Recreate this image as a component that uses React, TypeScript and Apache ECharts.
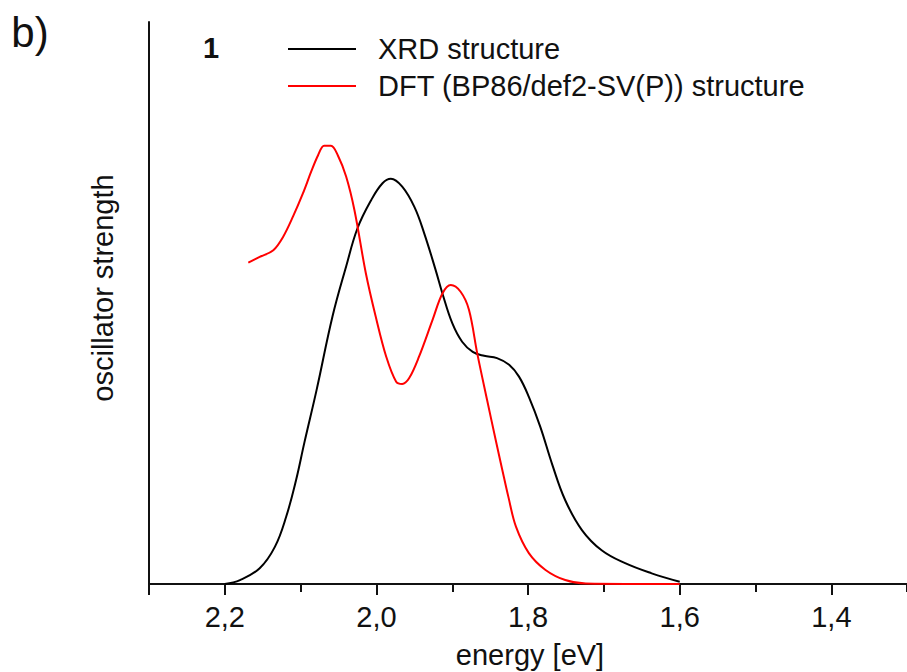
import React, { useEffect, useRef } from "react";
import * as echarts from "echarts";

// XRD structure (black)
const xrdEnergy = [2.2, 2.18, 2.154, 2.134, 2.119, 2.106, 2.095, 2.079, 2.058, 2.04, 2.025, 2.007, 1.992, 1.981, 1.966, 1.95, 1.937, 1.922, 1.913, 1.9, 1.887, 1.873, 1.858, 1.841, 1.825, 1.812, 1.799, 1.784, 1.768, 1.751, 1.729, 1.703, 1.672, 1.637, 1.6];
const xrdStrength = [0, 0.7, 2.8, 6.6, 12.0, 18.5, 25.2, 34.5, 47.6, 56.5, 63.3, 68.3, 71.3, 72.1, 70.7, 67.1, 62.4, 55.9, 51.7, 46.4, 43.1, 41.3, 40.6, 40.2, 39.0, 36.9, 33.3, 28.0, 21.2, 14.9, 9.6, 6.0, 3.7, 1.9, 0.4];

// DFT (BP86/def2-SV(P)) structure (red)
const dftEnergy = [2.169, 2.154, 2.136, 2.123, 2.11, 2.097, 2.086, 2.077, 2.069, 2.06, 2.051, 2.04, 2.029, 2.014, 2.001, 1.987, 1.974, 1.966, 1.957, 1.944, 1.926, 1.913, 1.902, 1.889, 1.878, 1.867, 1.854, 1.843, 1.834, 1.826, 1.816, 1.799, 1.777, 1.751, 1.724, 1.6];
const dftStrength = [57.2, 58.2, 59.4, 61.8, 65.4, 69.5, 73.4, 76.3, 78.0, 78.0, 76.3, 72.5, 66.5, 55.3, 47.6, 40.4, 36.0, 35.6, 36.6, 40.4, 47.0, 51.7, 53.2, 52.0, 48.8, 41.0, 32.7, 25.8, 20.3, 15.5, 10.2, 5.5, 2.5, 0.7, 0.1, 0.0];

const seriesNames = ["XRD structure", "DFT (BP86/def2-SV(P)) structure"];
const xAxisTitle = "energy [eV]";
const yAxisTitle = "oscillator strength";

const FONT = "'Liberation Sans', Arial, sans-serif";
const INK = "#111";

export default function App() {
  const ref = useRef<HTMLDivElement>(null);

  useEffect(() => {
    if (!ref.current) return;
    const chart = echarts.init(ref.current, null, { renderer: "svg" });
    const tickFmt = (v: number) => {
      const k = v * 5;
      if (Math.abs(k - Math.round(k)) > 1e-6) return "";
      if (v > 2.25 || v < 1.35) return "";
      return v.toFixed(1).replace(".", ",");
    };
    chart.setOption({
      animation: false,
      backgroundColor: "#fff",
      grid: { left: 149, right: 0.5, top: 22, bottom: 88, containLabel: false },
      legend: {
        orient: "vertical",
        left: 283,
        top: 29,
        itemWidth: 68,
        itemHeight: 2,
        itemGap: 7,
        icon: "rect",
        selectedMode: false,
        textStyle: { fontSize: 29, lineHeight: 30, color: INK, fontFamily: FONT, padding: [0, 0, 0, 17] },
        data: seriesNames,
      },
      xAxis: [
        {
          type: "value",
          min: 1.2,
          max: 2.3,
          interval: 0.2,
          inverse: true,
          position: "bottom",
          axisLine: { show: true, onZero: false, lineStyle: { color: INK, width: 2 } },
          axisTick: { show: true, length: 11, lineStyle: { color: INK, width: 2 } },
          axisLabel: { formatter: tickFmt, fontSize: 29, color: INK, fontFamily: FONT, margin: 18 },
          splitLine: { show: false },
        },
        {
          type: "value",
          min: 1.2,
          max: 2.3,
          interval: 0.1,
          inverse: true,
          position: "bottom",
          offset: 0,
          axisLine: { show: false, onZero: false },
          axisTick: { show: true, length: 8, lineStyle: { color: INK, width: 2 } },
          axisLabel: { show: false },
          splitLine: { show: false },
        },
      ],
      yAxis: {
        type: "value",
        min: 0,
        max: 100,
        axisLine: { show: true, onZero: false, lineStyle: { color: INK, width: 2 } },
        axisTick: { show: false },
        axisLabel: { show: false },
        splitLine: { show: false },
      },
      series: [
        {
          name: seriesNames[0],
          type: "line",
          xAxisIndex: 0,
          showSymbol: false,
          smooth: 0.4,
          color: "#000",
          lineStyle: { color: "#000", width: 2 },
          data: xrdEnergy.map((e, i) => [e, xrdStrength[i]]),
        },
        {
          name: seriesNames[1],
          type: "line",
          xAxisIndex: 0,
          showSymbol: false,
          smooth: 0.35,
          color: "#f00",
          lineStyle: { color: "#f00", width: 2 },
          data: dftEnergy.map((e, i) => [e, dftStrength[i]]),
        },
      ],
      graphic: [
        {
          type: "text",
          x: 30,
          y: 32,
          style: { text: "b)", font: `42px ${FONT}`, fill: INK, textAlign: "center", textVerticalAlign: "middle" },
        },
        {
          type: "text",
          x: 211,
          y: 48,
          style: { text: "1", font: `bold 29px ${FONT}`, fill: INK, textAlign: "center", textVerticalAlign: "middle" },
        },
        {
          type: "text",
          x: 530,
          y: 655,
          style: { text: xAxisTitle, font: `29px ${FONT}`, fill: INK, textAlign: "center", textVerticalAlign: "middle" },
        },
        {
          type: "text",
          x: 103,
          y: 288,
          rotation: Math.PI / 2,
          style: { text: yAxisTitle, font: `29px ${FONT}`, fill: INK, textAlign: "center", textVerticalAlign: "middle" },
        },
      ],
    });
    return () => chart.dispose();
  }, []);

  return (
    <div style={{ position: "fixed", left: 0, top: 0, width: 907, height: 672, overflow: "hidden", background: "#fff" }}>
      <div ref={ref} style={{ width: 986, height: 672 }} />
    </div>
  );
}
